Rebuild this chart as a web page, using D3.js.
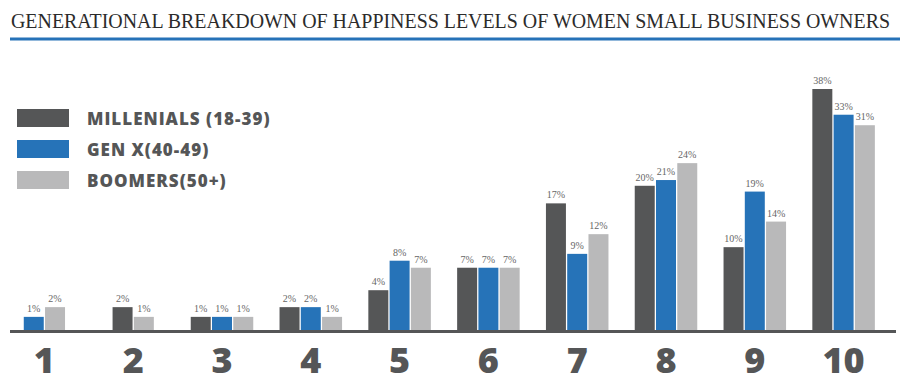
<!DOCTYPE html>
<html>
<head>
<meta charset="utf-8">
<script src="https://cdn.jsdelivr.net/npm/d3@7"></script>
<style>
  body { margin: 0; background: #fff; }
</style>
</head>
<body>
<div id="chart"></div>
<script>
var width = 910
var height = 383

// Data (percent of each generation)
var levels = ['1', '2', '3', '4', '5', '6', '7', '8', '9', '10']
var seriesNames = ['MILLENIALS (18-39)', 'GEN X(40-49)', 'BOOMERS(50+)']
var millenials = [0, 2, 1, 2, 4, 7, 17, 20, 10, 38]
var genX = [1, 0, 1, 2, 8, 7, 9, 21, 19, 33]
var boomers = [2, 1, 1, 1, 7, 7, 12, 24, 14, 31]
var colors = ['#555657', '#2673b8', '#b9b9ba']

var series = [millenials, genX, boomers]

var svg = d3
  .select('#chart')
  .append('svg')
  .attr('width', width)
  .attr('height', height)

// title + blue rule
svg
  .append('text')
  .text('GENERATIONAL BREAKDOWN OF HAPPINESS LEVELS OF WOMEN SMALL BUSINESS OWNERS')
  .attr('x', 11)
  .attr('y', 28)
  .attr('textLength', 879)
  .attr('lengthAdjust', 'spacingAndGlyphs')
  .attr('font-family', '"Liberation Serif", serif')
  .attr('font-size', 20)
  .attr('fill', '#2b2b2b')

svg
  .append('line')
  .attr('x1', 10)
  .attr('x2', 900)
  .attr('y1', 39)
  .attr('y2', 39)
  .attr('stroke', '#2672b8')
  .attr('stroke-width', 3)

var baseline = 330

var xScale = d3
  .scaleBand()
  .domain(levels)
  .range([0, 888])
  .paddingInner(0.27)
  .paddingOuter(0.135)

// bars are not drawn to a linear scale in the original, a soft power fits best
var yScale = d3
  .scalePow()
  .exponent(0.8)
  .domain([0, 38])
  .range([baseline, 89])

var groups = svg
  .append('g')
  .selectAll('g')
  .data(levels)
  .enter()
  .append('g')
  .attr('transform', d => `translate(${xScale(d)},0)`)

groups.each(function(level, i) {
  var g = d3.select(this)
  // zero bars are left out and the rest re-centred
  var present = d3.range(3).filter(s => series[s][i] > 0)
  var inner = d3
    .scaleBand()
    .domain(present)
    .paddingInner(0.06)
  var w = 20 * present.length + inner.paddingInner() * 21 * (present.length - 1)
  var off = (xScale.bandwidth() - w) / 2
  inner.range([off, off + w])

  present.forEach(s => {
    var v = series[s][i]
    g.append('rect')
      .attr('x', inner(s))
      .attr('width', inner.bandwidth())
      .attr('y', yScale(v))
      .attr('height', baseline - yScale(v))
      .attr('fill', colors[s])

    g.append('text')
      .text(v + '%')
      .attr('x', inner(s) + inner.bandwidth() / 2)
      .attr('y', yScale(v) - 5)
      .attr('text-anchor', 'middle')
      .attr('font-family', 'Georgia, "Liberation Serif", serif')
      .attr('font-size', 10)
      .attr('fill', '#666')
  })

  g.append('text')
    .text(level)
    .attr('x', xScale.bandwidth() / 2)
    .attr('y', 373)
    .attr('text-anchor', 'middle')
    .attr('font-family', '"Open Sans", sans-serif')
    .attr('font-weight', 800)
    .attr('font-size', 36)
    .attr('fill', '#555657')
})

// axis line
svg
  .append('line')
  .attr('x1', 10)
  .attr('x2', 896)
  .attr('y1', baseline + 1.5)
  .attr('y2', baseline + 1.5)
  .attr('stroke', '#555657')
  .attr('stroke-width', 3)

// legend
var legend = svg
  .append('g')
  .attr('transform', 'translate(17,109)')
  .selectAll('g')
  .data(seriesNames)
  .enter()
  .append('g')
  .attr('transform', (d, i) => `translate(0,${i * 31})`)

legend
  .append('rect')
  .attr('width', 52)
  .attr('height', 18)
  .attr('fill', (d, i) => colors[i])

legend
  .append('text')
  .text(d => d)
  .attr('x', 70)
  .attr('y', 16)
  .attr('font-family', '"Open Sans", sans-serif')
  .attr('font-weight', 800)
  .attr('font-size', 17)
  .attr('letter-spacing', 1)
  .attr('fill', '#555657')
</script>
</body>
</html>
